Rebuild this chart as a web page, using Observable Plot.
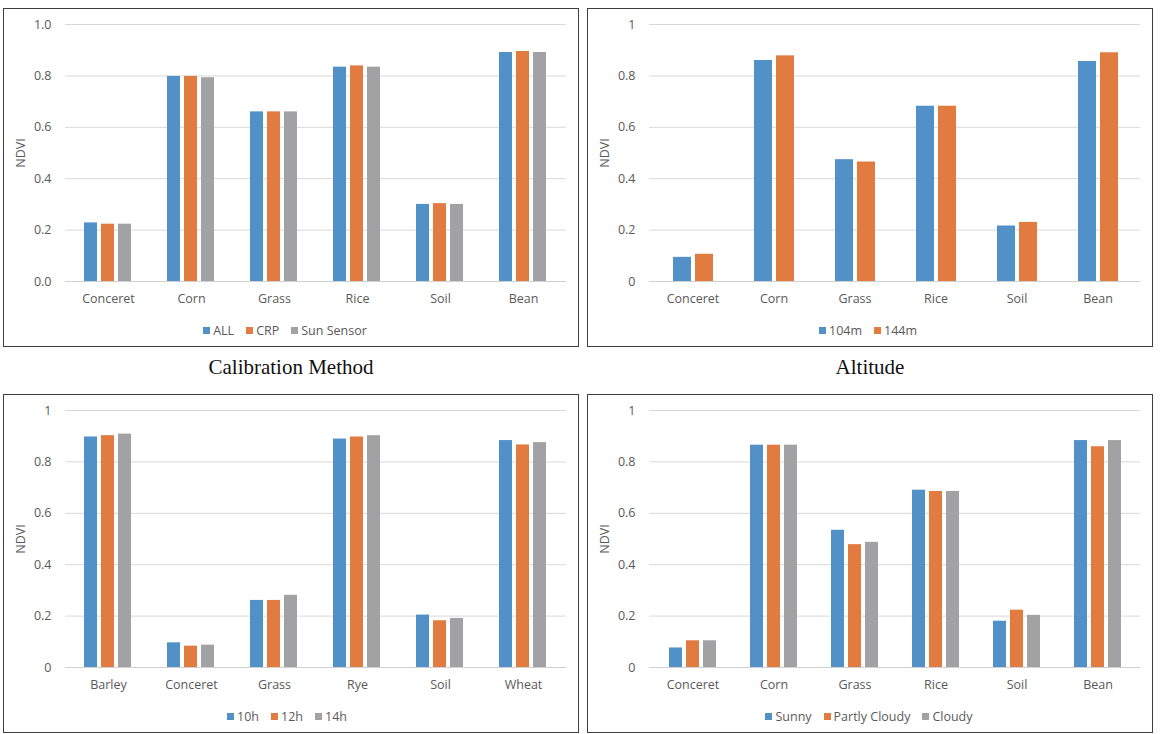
<!DOCTYPE html>
<html>
<head>
<meta charset="utf-8">
<script src="https://cdn.jsdelivr.net/npm/d3@7"></script>
<script src="https://cdn.jsdelivr.net/npm/@observablehq/plot@0.6"></script>
<style>
  body { margin: 0; background: #fff; }
  #root { position: relative; width: 1172px; height: 734px; background: #fff; overflow: hidden; }
  .panel { position: absolute; border: 1px solid #3f3f3f; box-sizing: border-box; background: #fff; }
  .panel svg { position: absolute; left: 0; top: 0; }
  .legend { position: absolute; left: 0; right: 0; top: 313px; display: flex; justify-content: center; gap: 12px;
            font-family: "Open Sans", sans-serif; font-size: 12.5px; color: #595959; }
  .legend .item { display: flex; align-items: center; gap: 3px; }
  .legend .sw { width: 7px; height: 7px; display: inline-block; }
  .title { position: absolute; font-family: "Liberation Serif", serif; font-size: 21px; color: #111; text-align: center; }
</style>
</head>
<body>
<div id="root"></div>
<script>
// ---------- data ----------
const colors = ["#5291C7", "#E27B3F", "#A2A2A4"];

const categories1 = ["Conceret", "Corn", "Grass", "Rice", "Soil", "Bean"];
const series1 = ["ALL", "CRP", "Sun Sensor"];
const all1 = [0.228, 0.798, 0.660, 0.834, 0.300, 0.891];
const crp1 = [0.223, 0.798, 0.660, 0.839, 0.303, 0.895];
const sun1 = [0.223, 0.793, 0.660, 0.834, 0.300, 0.891];
const ticks1 = ["0.0", "0.2", "0.4", "0.6", "0.8", "1.0"];

const categories2 = ["Conceret", "Corn", "Grass", "Rice", "Soil", "Bean"];
const series2 = ["104m", "144m"];
const alt104 = [0.094, 0.860, 0.474, 0.682, 0.216, 0.856];
const alt144 = [0.106, 0.878, 0.465, 0.682, 0.230, 0.890];
const ticks2 = ["0", "0.2", "0.4", "0.6", "0.8", "1"];

const categories3 = ["Barley", "Conceret", "Grass", "Rye", "Soil", "Wheat"];
const series3 = ["10h", "12h", "14h"];
const h10 = [0.897, 0.096, 0.261, 0.889, 0.204, 0.883];
const h12 = [0.902, 0.083, 0.261, 0.897, 0.182, 0.866];
const h14 = [0.908, 0.087, 0.281, 0.902, 0.191, 0.875];
const ticks3 = ["0", "0.2", "0.4", "0.6", "0.8", "1"];

const categories4 = ["Conceret", "Corn", "Grass", "Rice", "Soil", "Bean"];
const series4 = ["Sunny", "Partly Cloudy", "Cloudy"];
const sunny4 = [0.076, 0.865, 0.534, 0.690, 0.180, 0.883];
const partly4 = [0.104, 0.865, 0.478, 0.685, 0.223, 0.859];
const cloudy4 = [0.104, 0.865, 0.487, 0.685, 0.203, 0.883];
const ticks4 = ["0", "0.2", "0.4", "0.6", "0.8", "1"];

const tickValues = [0, 0.2, 0.4, 0.6, 0.8, 1];
const gridValues = [0.2, 0.4, 0.6, 0.8, 1];

// ---------- drawing ----------
const root = document.getElementById("root");

function makePanel({left, top, width, height, cats, series, values, tickLabels, fxPadInner, xPadInner, title, legendShift}) {
  const div = document.createElement("div");
  div.className = "panel";
  Object.assign(div.style, {left: left + "px", top: top + "px", width: width + "px", height: height + "px"});
  root.appendChild(div);

  const data = [];
  cats.forEach((c, i) => series.forEach((s, j) => data.push({cat: c, series: s, value: values[j][i]})));

  const innerW = width - 2;
  const common = {
    width: innerW,
    height: 300,
    marginTop: 15,
    marginBottom: 28,
    marginLeft: 61,
    marginRight: 12,
    style: {fontFamily: "Open Sans, sans-serif", fontSize: "12.5px", color: "#595959", background: "transparent", overflow: "visible"}
  };

  // background layer: y axis, gridlines, baseline
  const back = Plot.plot({
    ...common,
    y: {domain: [0, 1], ticks: tickValues, tickFormat: (d) => tickLabels[tickValues.indexOf(d)], tickSize: 0, tickPadding: 14,
        label: "NDVI", labelAnchor: "center", labelArrow: "none", labelOffset: 49},
    marks: [
      Plot.ruleY(gridValues, {stroke: "#d9d9d9", strokeWidth: 1}),
      Plot.ruleY([0], {stroke: "#d0d0d0", strokeWidth: 1})
    ]
  });
  div.appendChild(back);

  // foreground layer: grouped bars and category axis
  const front = Plot.plot({
    ...common,
    fx: {domain: cats, paddingInner: fxPadInner, paddingOuter: fxPadInner / 2, label: null, axis: "bottom", tickSize: 0, tickPadding: 13},
    x: {domain: series, paddingInner: xPadInner, paddingOuter: 0, axis: null},
    y: {domain: [0, 1], axis: null},
    color: {domain: series, range: colors},
    marks: [
      Plot.barY(data, {fx: "cat", x: "series", y: "value", fill: "series"})
    ]
  });
  div.appendChild(front);

  const legend = document.createElement("div");
  legend.className = "legend";
  legend.style.left = (legendShift || 0) + "px";
  legend.style.right = (-(legendShift || 0)) + "px";
  series.forEach((s, j) => {
    const it = document.createElement("span");
    it.className = "item";
    const sw = document.createElement("span");
    sw.className = "sw";
    sw.style.background = colors[j];
    it.appendChild(sw);
    const t = document.createElement("span");
    t.textContent = s;
    it.appendChild(t);
    legend.appendChild(it);
  });
  div.appendChild(legend);

  if (title) {
    const t = document.createElement("div");
    t.className = "title";
    t.textContent = title;
    Object.assign(t.style, {left: left + "px", width: width + "px", top: (top + height + 8) + "px"});
    root.appendChild(t);
  }
}

makePanel({left: 3, top: 8, width: 576, height: 339, cats: categories1, series: series1,
  values: [all1, crp1, sun1], tickLabels: ticks1, fxPadInner: 0.4, xPadInner: 0.22, title: "Calibration Method", legendShift: -6});
makePanel({left: 587, top: 8, width: 566, height: 339, cats: categories2, series: series2,
  values: [alt104, alt144], tickLabels: ticks2, fxPadInner: 0.5, xPadInner: 0.2, title: "Altitude", legendShift: -2});
makePanel({left: 3, top: 394, width: 576, height: 339, cats: categories3, series: series3,
  values: [h10, h12, h14], tickLabels: ticks3, fxPadInner: 0.4, xPadInner: 0.22, legendShift: -4});
makePanel({left: 587, top: 394, width: 566, height: 339, cats: categories4, series: series4,
  values: [sunny4, partly4, cloudy4], tickLabels: ticks4, fxPadInner: 0.4, xPadInner: 0.22, legendShift: -1});
</script>
</body>
</html>
